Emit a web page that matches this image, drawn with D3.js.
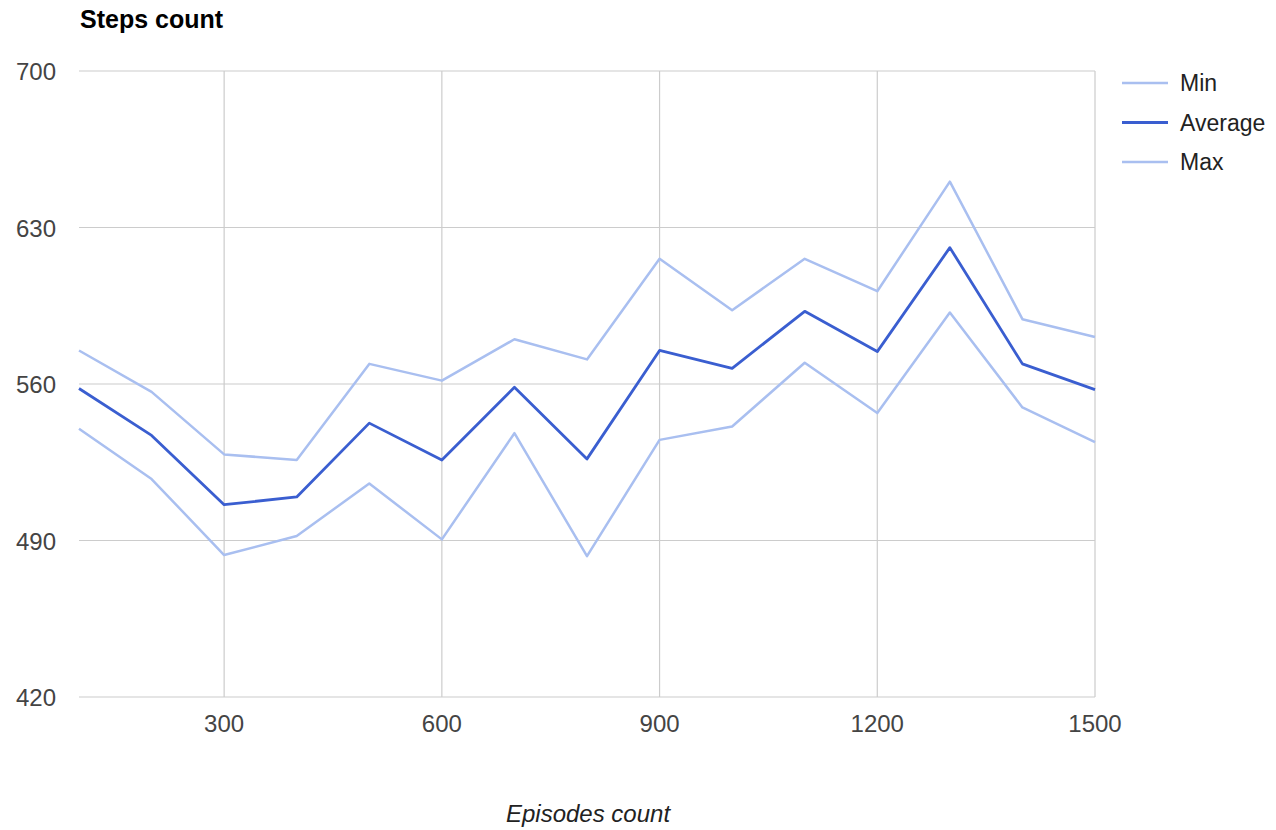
<!DOCTYPE html>
<html lang="en">
<head>
<meta charset="utf-8">
<title>Steps count</title>
<script src="https://cdn.jsdelivr.net/npm/d3@7"></script>
<style>
  body { margin: 0; background: #fff; }
  text { font-family: "Liberation Sans", Arial, sans-serif; }
</style>
</head>
<body>
<svg id="chart" width="1276" height="830"></svg>
<script>
// episodes on the x axis
var episodes = [100, 200, 300, 400, 500, 600, 700, 800, 900, 1000, 1100, 1200, 1300, 1400, 1500];
var minSteps = [540, 517.5, 483.5, 492, 515.5, 490.5, 538, 483, 535, 541, 569.5, 547, 592, 549.5, 534];
var avgSteps = [558, 537, 506, 509.5, 542.5, 526, 558.5, 526.5, 575, 567, 592.5, 574.5, 621, 569, 557.5];
var maxSteps = [575, 556.5, 528.5, 526, 569, 561.5, 580, 571, 616, 593, 616, 601.5, 650.5, 589, 581];
var xTicks = [300, 600, 900, 1200, 1500];
var yTicks = [420, 490, 560, 630, 700];

var series = [
    {name: "Min", values: minSteps, color: "#a9bff0", width: 2.5},
    {name: "Average", values: avgSteps, color: "#3a5ed0", width: 2.8},
    {name: "Max", values: maxSteps, color: "#a9bff0", width: 2.5}
];

var svg = d3.select("#chart");
var plotLeft = 79, plotRight = 1095, plotTop = 71, plotBottom = 697;

var x = d3.scaleLinear().domain([100, 1500]).range([plotLeft, plotRight]);
var y = d3.scaleLinear().domain([420, 700]).range([plotBottom, plotTop]);

// gridlines
svg.append("g").selectAll("line")
    .data(yTicks).enter().append("line")
    .attr("x1", plotLeft).attr("x2", plotRight)
    .attr("y1", function(d) { return y(d); })
    .attr("y2", function(d) { return y(d); })
    .attr("stroke", "#cccccc").attr("stroke-width", 1.2);

svg.append("g").selectAll("line")
    .data(xTicks).enter().append("line")
    .attr("x1", function(d) { return x(d); })
    .attr("x2", function(d) { return x(d); })
    .attr("y1", plotTop).attr("y2", plotBottom)
    .attr("stroke", "#cccccc").attr("stroke-width", 1.2);

// tick labels
svg.append("g").selectAll("text")
    .data(yTicks).enter().append("text")
    .attr("x", 56)
    .attr("y", function(d) { return y(d) + 9; })
    .attr("text-anchor", "end")
    .attr("font-size", 24)
    .attr("fill", "#444")
    .text(function(d) { return d; });

svg.append("g").selectAll("text")
    .data(xTicks).enter().append("text")
    .attr("x", function(d) { return x(d); })
    .attr("y", 732)
    .attr("text-anchor", "middle")
    .attr("font-size", 24)
    .attr("fill", "#444")
    .text(function(d) { return d; });

// lines
var line = d3.line()
    .x(function(d, i) { return x(episodes[i]); })
    .y(function(d) { return y(d); });

svg.append("g").selectAll("path")
    .data(series).enter().append("path")
    .attr("d", function(s) { return line(s.values); })
    .attr("fill", "none")
    .attr("stroke", function(s) { return s.color; })
    .attr("stroke-width", function(s) { return s.width; })
    .attr("stroke-linejoin", "round");

// legend
var legend = svg.append("g").selectAll("g")
    .data(series).enter().append("g")
    .attr("transform", function(s, i) { return "translate(1122," + (83 + i * 39.5) + ")"; });
legend.append("line")
    .attr("x1", 0).attr("x2", 46)
    .attr("stroke", function(s) { return s.color; })
    .attr("stroke-width", function(s) { return s.width; });
legend.append("text")
    .attr("x", 58).attr("y", 8)
    .attr("font-size", 23)
    .attr("fill", "#222")
    .text(function(s) { return s.name; });

// titles
svg.append("text")
    .attr("x", 80).attr("y", 28)
    .attr("font-size", 25).attr("font-weight", "bold")
    .attr("fill", "#000")
    .text("Steps count");

svg.append("text")
    .attr("x", 588).attr("y", 822)
    .attr("text-anchor", "middle")
    .attr("font-size", 24).attr("font-style", "italic")
    .attr("fill", "#222")
    .text("Episodes count");
</script>
</body>
</html>
